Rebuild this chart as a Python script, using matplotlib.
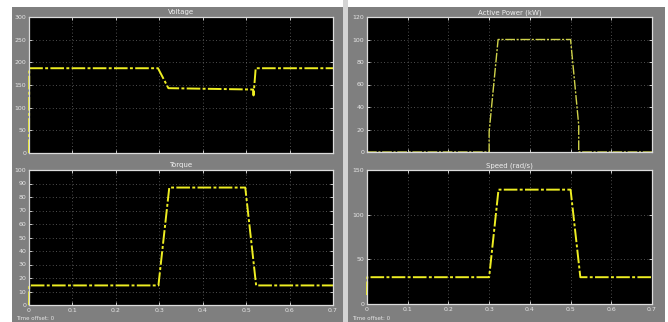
import matplotlib.pyplot as plt
from matplotlib.patches import Rectangle
from matplotlib.ticker import MultipleLocator

# scope traces (time in s)
voltage_t = [0, 0.0005, 0.297, 0.321, 0.516, 0.517, 0.522, 0.7]
voltage_v = [0, 187, 187, 143, 140, 127, 187, 187]

power_t = [0, 0.3, 0.3, 0.322, 0.5, 0.52, 0.52, 0.7]
power_v = [0, 0, 18, 100, 100, 24, 0, 0]

torque_t = [0, 0.0005, 0.298, 0.323, 0.498, 0.523, 0.7]
torque_v = [0, 14.5, 14.5, 87, 87, 14.5, 14.5]

speed_t = [0, 0.0005, 0.3, 0.323, 0.5, 0.524, 0.7]
speed_v = [10, 30, 30, 128, 128, 30, 30]

x_ticks = [0, 0.1, 0.2, 0.3, 0.4, 0.5, 0.6, 0.7]
x_labels = ["0", "0.1", "0.2", "0.3", "0.4", "0.5", "0.6", "0.7"]

W, H = 668, 322
fig = plt.figure(figsize=(W / 100, H / 100), dpi=100)
fig.patch.set_facecolor("white")

# two scope windows with a light divider
win_gray = "#7f7f7f"
fig.patches.append(Rectangle((12 / W, 0), 331 / W, 315 / H, transform=fig.transFigure,
                             facecolor=win_gray, edgecolor="none", zorder=-2))
fig.patches.append(Rectangle((343 / W, 0), 5 / W, 1, transform=fig.transFigure,
                             facecolor="#d4d4d4", edgecolor="none", zorder=-2))
fig.patches.append(Rectangle((348 / W, 0), 317 / W, 315 / H, transform=fig.transFigure,
                             facecolor=win_gray, edgecolor="none", zorder=-2))


def scope_axes(x0, y0, x1, y1):
    return fig.add_axes([x0 / W, 1 - y1 / H, (x1 - x0) / W, (y1 - y0) / H])


def style(ax, title, ymax, ystep, show_x):
    ax.set_facecolor("black")
    ax.set_xlim(0, 0.7)
    ax.set_ylim(0, ymax)
    ax.set_xticks(x_ticks)
    ax.yaxis.set_major_locator(MultipleLocator(ystep))
    if show_x:
        ax.set_xticklabels(x_labels)
    else:
        ax.set_xticklabels([])
    ax.tick_params(colors="#e6e6e6", labelsize=4.5, direction="in", length=2.5,
                   width=0.6, top=True, right=True, pad=2)
    for s in ax.spines.values():
        s.set_color("#dcdcdc")
        s.set_linewidth(0.9)
    ax.grid(True, color="#d0d0d0", linestyle=(0, (1, 3)), linewidth=0.6, alpha=0.5)
    ax.set_title(title, color="#f0f0f0", fontsize=5, pad=2)


trace = dict(color="#eeee22", linewidth=1.4, dashes=(7, 1.2, 1.5, 1.2), clip_on=False)

ax1 = scope_axes(29, 17, 333, 153)
style(ax1, "Voltage", 300, 50, False)
ax1.plot(voltage_t, voltage_v, **trace)

ax2 = scope_axes(367, 17, 652, 152)
style(ax2, "Active Power (kW)", 120, 20, False)
ax2.plot(power_t, power_v, color="#cfd24a", linewidth=1.0, dashes=(7, 1.2, 1.5, 1.2))

ax3 = scope_axes(29, 170, 333, 305)
style(ax3, "Torque", 100, 10, True)
ax3.plot(torque_t, torque_v, **trace)

ax4 = scope_axes(367, 170, 652, 304)
style(ax4, "Speed (rad/s)", 150, 50, True)
ax4.plot(speed_t, speed_v, **trace)

fig.text(16 / W, 1 - 318 / H, "Time offset: 0", color="#e6e6e6", fontsize=4, va="center")
fig.text(352 / W, 1 - 318 / H, "Time offset: 0", color="#e6e6e6", fontsize=4, va="center")

fig.savefig("out.png", dpi=100, facecolor=fig.get_facecolor())
